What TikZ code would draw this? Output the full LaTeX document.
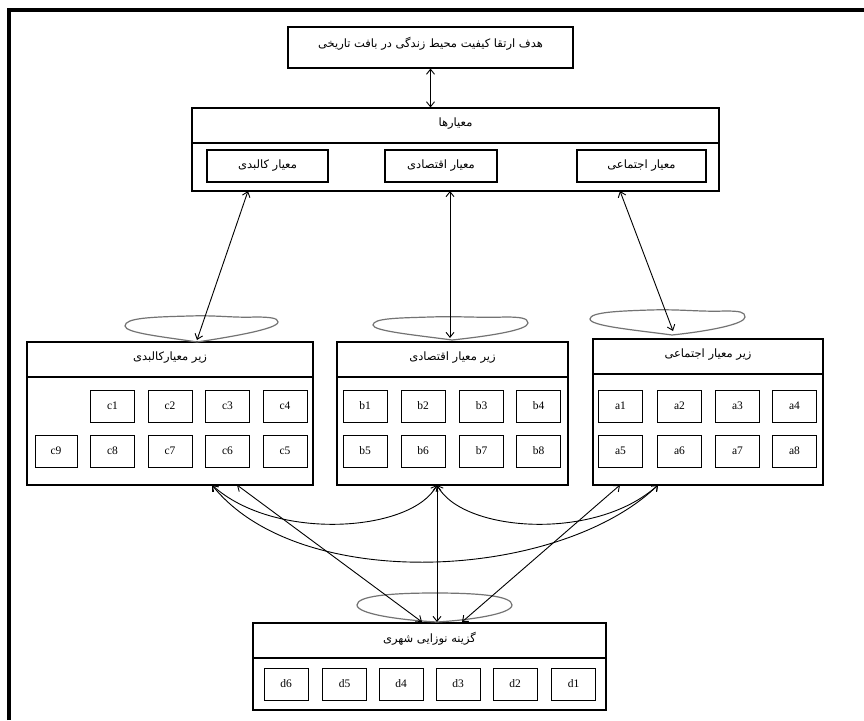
\documentclass[tikz,border=0pt]{standalone}
\usepackage{fontspec}
\setmainfont{Liberation Serif}
\newfontfamily\fa[Script=Arabic]{DejaVu Sans}
\TeXXeTstate=1
\usetikzlibrary{arrows.meta}
\tikzset{
  bx/.style={draw, line width=1.1pt, inner sep=0pt, rectangle},
  sbox/.style={draw, line width=1pt, inner sep=0pt, minimum width=44pt, minimum height=32pt, font=\fontsize{11.5}{13}\selectfont},
  ptxt/.style={font=\fa\fontsize{11.5}{13}\selectfont},
  conn/.style={line width=0.9pt, {Straight Barb[length=5pt,width=8pt]}-{Straight Barb[length=5pt,width=8pt]}},
  lobe/.style={draw=black!55, line width=1.2pt}
}
\begin{document}
\begin{tikzpicture}[x=1pt,y=-1pt]
\useasboundingbox (0,0) rectangle (864,720);
\fill[white] (0,0) rectangle (864,720);
\draw[line width=3.5pt] (9,720) -- (9,10) -- (864,10);

% title
\node[bx, minimum width=285pt, minimum height=41pt] (title) at (430.5,47.5) {};
\node[ptxt] (titletxt) at (430.5,44) {\beginR هدف ارتقا کیفیت محیط زندگی در بافت تاریخی\endR};

% criteria
\node[bx, minimum width=527pt, minimum height=35pt] (crithead) at (455.5,125.5) {};
\node[bx, minimum width=527pt, minimum height=48pt] (critbody) at (455.5,167) {};
\node[ptxt] (crittxt) at (455.5,124) {\beginR معیارها\endR};
\node[bx, ptxt, minimum width=121pt, minimum height=32pt] (kalb) at (267.5,166) {\beginR معیار کالبدی\endR};
\node[bx, ptxt, minimum width=112pt, minimum height=32pt] (eqt) at (441,166) {\beginR معیار اقتصادی\endR};
\node[bx, ptxt, minimum width=129pt, minimum height=32pt] (ejt) at (641.5,166) {\beginR معیار اجتماعی\endR};

% sub-criteria C
\node[bx, minimum width=286pt, minimum height=35pt] (chead) at (170,359.5) {};
\node[bx, minimum width=286pt, minimum height=108pt] (cbody) at (170,431) {};
\node[ptxt] (ctxt) at (170,358) {\beginR زیر معیارکالبدی\endR};
\foreach \n/\x/\y in {c1/112.5/406, c2/170/406, c3/227.5/406, c4/285/406, c8/112.5/451, c7/170/451, c6/227.5/451, c5/285/451}
  \node[sbox] (\n) at (\x,\y) {\n};
\node[sbox, minimum width=42pt] (c9) at (56,451) {c9};

% sub-criteria B
\node[bx, minimum width=231pt, minimum height=35pt] (bhead) at (452.5,359.5) {};
\node[bx, minimum width=231pt, minimum height=108pt] (bbody) at (452.5,431) {};
\node[ptxt] (btxt) at (452.5,358) {\beginR زیر معیار اقتصادی\endR};
\foreach \n/\x/\y in {b1/365/406, b2/423/406, b3/481.5/406, b4/538.5/406, b5/365/451, b6/423/451, b7/481.5/451, b8/538.5/451}
  \node[sbox] (\n) at (\x,\y) {\n};

% sub-criteria A
\node[bx, minimum width=230pt, minimum height=35pt] (ahead) at (708,356.5) {};
\node[bx, minimum width=230pt, minimum height=111pt] (abody) at (708,429.5) {};
\node[ptxt] (atxt) at (708,355) {\beginR زیر معیار اجتماعی\endR};
\foreach \n/\x/\y in {a1/620.5/406, a2/679.5/406, a3/737.5/406, a4/794.5/406, a5/620.5/451, a6/679.5/451, a7/737.5/451, a8/794.5/451}
  \node[sbox] (\n) at (\x,\y) {\n};

% alternatives D
\node[bx, minimum width=353pt, minimum height=35pt] (dhead) at (429.5,640.5) {};
\node[bx, minimum width=353pt, minimum height=52pt] (dbody) at (429.5,684) {};
\node[ptxt] (dtxt) at (429.5,639) {\beginR گزینه نوزایی شهری\endR};
\foreach \n/\x in {d6/286, d5/344.5, d4/401, d3/458, d2/515, d1/573.5}
  \node[sbox] (\n) at (\x,684) {\n};

% lobes
\path[lobe] (197,342) .. controls (165,337) and (125,333) .. (125,326)
  .. controls (125,318) and (150,317) .. (190,316)
  .. controls (215,315) and (235,318) .. (255,317)
  .. controls (270,317) and (278,318) .. (278,322)
  .. controls (278,329) and (230,337) .. (197,342);
\path[lobe] (452,340) .. controls (415,335) and (373,331) .. (373,325)
  .. controls (373,318) and (400,318) .. (430,317)
  .. controls (460,316) and (480,318) .. (505,317)
  .. controls (520,317) and (528,318) .. (528,323)
  .. controls (528,330) and (490,336) .. (452,340);
\path[lobe] (672,335) .. controls (635,330) and (590,326) .. (590,319)
  .. controls (590,312) and (620,311) .. (650,310)
  .. controls (680,309) and (700,312) .. (725,311)
  .. controls (740,311) and (745,312) .. (745,317)
  .. controls (745,324) and (710,331) .. (672,335);
\path[lobe] (437,622) .. controls (400,620) and (357,614) .. (357,605)
  .. controls (357,596) and (390,593) .. (435,593)
  .. controls (480,593) and (512,596) .. (512,605)
  .. controls (512,614) and (470,620) .. (437,622);

% connector endpoints
\coordinate (k1) at (248,191);
\coordinate (k2) at (197,340);
\coordinate (e1) at (450,191);
\coordinate (e2) at (450,338);
\coordinate (j1) at (620,191);
\coordinate (j2) at (673,331);
\coordinate (cA) at (212,485);
\coordinate (cB) at (237,485);
\coordinate (bA) at (437,485);
\coordinate (aA) at (620,485);
\coordinate (aB) at (658,485);
\coordinate (dL) at (422,622);
\coordinate (dM) at (437,622);
\coordinate (dR) at (462,622);

\draw[conn] (title.south) -- (title.south |- crithead.north);
\draw[conn] (k1) -- (k2);
\draw[conn] (e1) -- (e2);
\draw[conn] (j1) -- (j2);
\draw[conn] (cB) -- (dL);
\draw[conn] (bA) -- (dM);
\draw[conn] (aA) -- (dR);
\draw[conn] (bA) .. controls (412,532) and (275,542) .. (cA);
\draw[conn] (bA) .. controls (462,532) and (595,542) .. (aB);
\draw[conn] (cA) .. controls (300,595) and (560,580) .. (aB);
\end{tikzpicture}
\end{document}
